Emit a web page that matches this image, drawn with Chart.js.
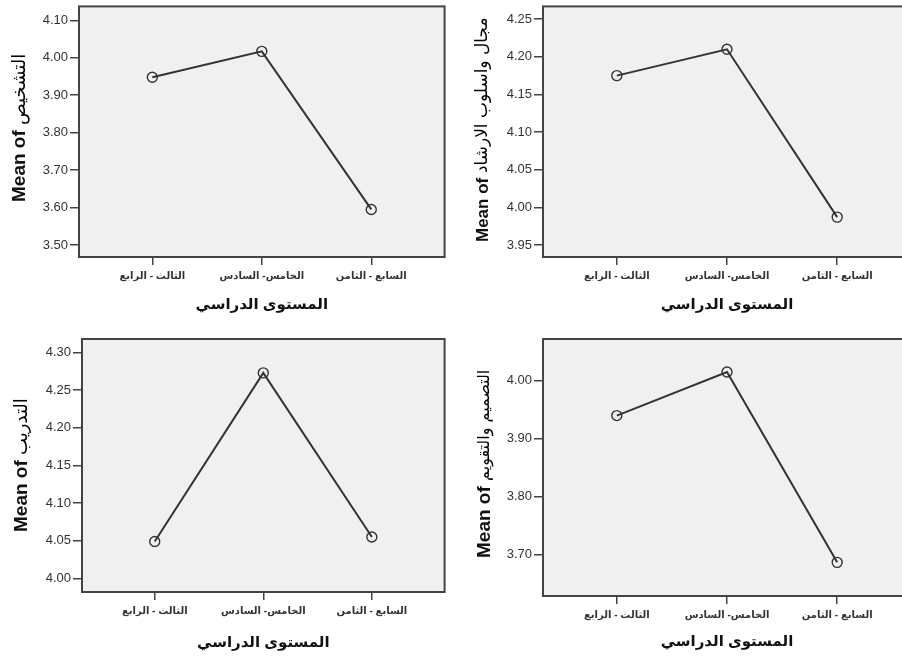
<!DOCTYPE html>
<html>
<head>
<meta charset="utf-8">
<script src="https://cdn.jsdelivr.net/npm/chart.js@4"></script>
<style>
  html, body { margin: 0; padding: 0; background: #fff; overflow: hidden; width: 902px; height: 659px; }
  canvas { position: absolute; }
</style>
</head>
<body>
<canvas id="p1" width="451" height="330" style="left:0;top:0;width:451px;height:330px"></canvas>
<canvas id="p2" width="470" height="330" style="left:451px;top:0;width:470px;height:330px"></canvas>
<canvas id="p3" width="451" height="329" style="left:0;top:330px;width:451px;height:329px"></canvas>
<canvas id="p4" width="470" height="329" style="left:451px;top:330px;width:470px;height:329px"></canvas>
<script>
// categories (study level)
const levels = ['الثالث - الرابع', 'الخامس- السادس', 'السابع - الثامن'];
const xTitle = 'المستوى الدراسي';

// means per level
const diagnosisMeans = [3.948, 4.017, 3.595];
const guidanceMeans = [4.175, 4.210, 3.987];
const trainingMeans = [4.049, 4.273, 4.055];
const designMeans = [3.940, 4.015, 3.687];

// y tick labels
const diagnosisTicks = [3.50, 3.60, 3.70, 3.80, 3.90, 4.00, 4.10];
const guidanceTicks = [3.95, 4.00, 4.05, 4.10, 4.15, 4.20, 4.25];
const trainingTicks = [4.00, 4.05, 4.10, 4.15, 4.20, 4.25, 4.30];
const designTicks = [3.70, 3.80, 3.90, 4.00];

const INK = '#333333';
const FONT = "'Liberation Sans', Arial, 'DejaVu Sans', sans-serif";

// grey plot box with a dark frame
const boxPlugin = {
    id: 'box',
    beforeDraw(chart) {
        const a = chart.chartArea, ctx = chart.ctx;
        ctx.save();
        ctx.fillStyle = '#f0f0f0';
        ctx.fillRect(a.left, a.top, a.right - a.left, a.bottom - a.top);
        ctx.restore();
    },
    afterDraw(chart) {
        const a = chart.chartArea, ctx = chart.ctx;
        ctx.save();
        ctx.strokeStyle = '#444';
        ctx.lineWidth = 2;
        ctx.strokeRect(a.left, a.top, a.right - a.left, a.bottom - a.top);
        ctx.restore();
    }
};

// SPSS style y title: bold "Mean of" followed by the lighter Arabic variable name
const yTitlePlugin = {
    id: 'yTitle',
    afterDraw(chart, args, opts) {
        const ctx = chart.ctx;
        ctx.save();
        ctx.translate(opts.x, opts.y);
        ctx.rotate(-Math.PI / 2);
        ctx.textBaseline = 'middle';
        ctx.textAlign = 'left';
        ctx.fillStyle = '#111';
        ctx.font = `bold ${opts.size}px ${FONT}`;
        ctx.fillText('Mean of', 0, 0);
        const w = ctx.measureText('Mean of ').width;
        ctx.fillStyle = '#000';
        ctx.font = `${opts.arSize}px 'DejaVu Sans', sans-serif`;
        ctx.direction = 'rtl';
        ctx.textAlign = 'left';
        ctx.fillText(opts.name, w, 0);
        ctx.restore();
    }
};

function makePanel(id, means, ticks, yMin, yMax, name, area) {
    const canvas = document.getElementById(id);
    const W = canvas.width, H = canvas.height;
    return new Chart(canvas, {
        type: 'line',
        data: {
            datasets: [{
                data: means.map((v, i) => ({ x: i, y: v })),
                borderColor: INK,
                borderWidth: 2,
                pointRadius: 5,
                pointBorderWidth: 1.4,
                pointBorderColor: INK,
                pointBackgroundColor: 'rgba(0,0,0,0)',
                tension: 0
            }]
        },
        options: {
            responsive: false,
            animation: false,
            events: [],
            layout: { padding: { left: 0, top: area.top, right: W - area.right, bottom: 0 } },
            plugins: {
                legend: { display: false },
                tooltip: { enabled: false },
                yTitle: { name: name, x: area.titleX, y: area.titleY, size: area.titleSize, arSize: area.arSize }
            },
            scales: {
                x: {
                    type: 'linear',
                    min: -0.67,
                    max: 2.67,
                    afterBuildTicks: s => { s.ticks = levels.map((_, i) => ({ value: i })); },
                    afterFit: s => { s.height = H - area.bottom; s.paddingLeft = 0; s.paddingRight = 0; },
                    border: { display: false },
                    grid: { drawOnChartArea: false, drawTicks: true, tickLength: 8, color: '#444', lineWidth: 1.5 },
                    ticks: {
                        autoSkip: false,
                        maxRotation: 0,
                        padding: 5,
                        color: INK,
                        font: { family: FONT, size: 10, weight: 'bold' },
                        callback: v => levels[v]
                    },
                    title: {
                        display: true,
                        text: xTitle,
                        color: '#111',
                        font: { family: FONT, size: 15, weight: 'bold' },
                        padding: { top: 0, bottom: area.xTitlePad }
                    }
                },
                y: {
                    min: yMin,
                    max: yMax,
                    afterBuildTicks: s => { s.ticks = ticks.map(v => ({ value: v })); },
                    afterFit: s => { s.width = area.left; s.paddingTop = 0; s.paddingBottom = 0; },
                    border: { display: false },
                    grid: { drawOnChartArea: false, drawTicks: true, tickLength: 9, color: '#444', lineWidth: 1.5 },
                    ticks: {
                        padding: 2,
                        color: INK,
                        font: { family: FONT, size: 13 },
                        callback: v => Number(v).toFixed(2)
                    }
                }
            }
        },
        plugins: [boxPlugin, yTitlePlugin]
    });
}

makePanel('p1', diagnosisMeans, diagnosisTicks, 3.468, 4.137, 'التشخيص',
    { left: 79, top: 3, right: 448, bottom: 257, titleX: 20, titleY: 202, titleSize: 19, arSize: 18, xTitlePad: 16 });
makePanel('p2', guidanceMeans, guidanceTicks, 3.934, 4.267, 'مجال واسلوب الارشاد',
    { left: 92, top: 3, right: 460, bottom: 257, titleX: 32, titleY: 242, titleSize: 17, arSize: 17, xTitlePad: 16 });
makePanel('p3', trainingMeans, trainingTicks, 3.982, 4.318, 'التدريب',
    { left: 82, top: 9, right: 448, bottom: 262, titleX: 22, titleY: 202, titleSize: 19, arSize: 18, xTitlePad: 7 });
makePanel('p4', designMeans, designTicks, 3.629, 4.072, 'التصميم والتقويم',
    { left: 92, top: 9, right: 460, bottom: 266, titleX: 34, titleY: 228, titleSize: 19, arSize: 16, xTitlePad: 8 });
</script>
</body>
</html>
